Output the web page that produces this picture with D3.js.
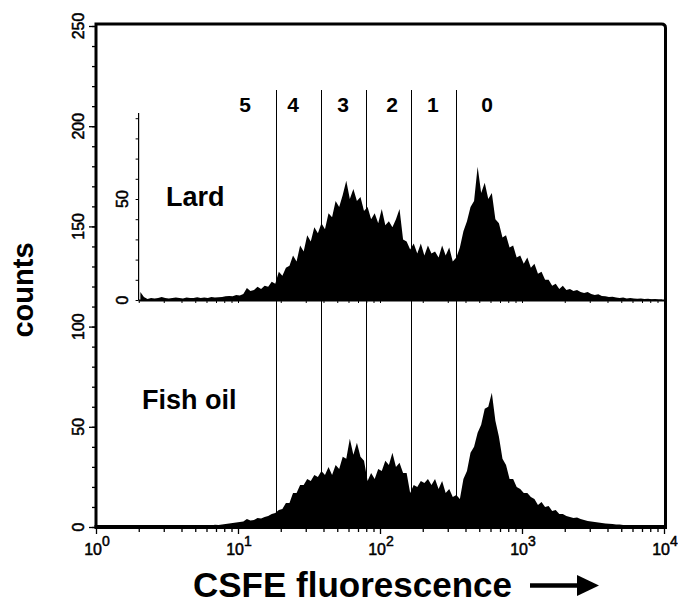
<!DOCTYPE html>
<html><head><meta charset="utf-8">
<script src="https://cdn.jsdelivr.net/npm/d3@7"></script>
<style>body{margin:0;background:#fff} svg{display:block}</style>
</head><body><svg id="c" width="678" height="603"></svg>
<script>
// Histogram channels: log10 of fluorescence, first channel and width
const binLogStart = 0.3, binLogStep = 0.025;
const lardCounts = [
 4,1.5,0.5,1,0.8,1,1.5,1,0.8,1,
 1.2,1,0.8,1.2,1,1,1.3,1,1.2,1,
 1.5,1.2,1.3,1.5,1.8,2,1.8,2.5,2.2,3,
 6,4.5,5,6.5,5.5,7,6.5,9,8,14,
 12,16,17,22,19,27,24,32,29,36,
 33,38,35,43,41,49,46,52,59,50,
 55,49,51,44,46,40,43,38,45,37,
 39,36,40,45,30,29,25,28,23,28,
 22,27,23,24,21,27,22,26,19,21,
 26,34,39,46,49,66,53,58,50,53,
 40,38,31,32,26,27,21,22,18,21,
 16,18,13,14,10,10,7,8,5.5,7,
 5,5.5,4.5,5,4,3.5,4,3,2.5,2.8,
 2,1.8,1.5,1.6,1.2,1,1.2,0.8,1,0.8,
 0.6,0.8,0.5,0.6,0.4,0.5,0.3,0.2];
const fishOilCounts = [
 0.5,0.3,0.2,0.2,0.2,0.2,0.3,0.2,0.3,0.3,
 0.4,0.5,0.4,0.6,0.5,0.7,0.6,0.8,0.7,1,
 0.8,1.1,1,1.3,1.5,1.8,2,2.2,2.5,2.8,
 4,3.2,3.5,4.5,4.2,5,5.5,6.5,7,8.5,
 9,12,12,17,17,21,21,24,23,26,
 25,28,26,30,26,31,29,35,34,44,
 36,42,35,33,23,27,24,29,28,33,
 31,37,30,32,27,27,17,21,20,23,
 22,24,21,24,19,23,17,19,15,16,
 14,24,28,37,40,47,51,59,60,67,
 53,45,34,31,24,24,20,19,17,17,
 15,14,11,12.5,10,10.5,8,8.5,6.5,6.5,
 5.5,5,4.5,4.8,4,3.5,3,2.8,2.5,2.3,
 2,1.8,1.6,1.5,1.3,1.2,1,1,0.9,1,
 0.8,0.8,0.6,0.5,0.5,0.4,0.3,0.2];
const gateBounds = [18.5, 38.4, 79.7, 165, 343];
const gateLabels = ["5","4","3","2","1","0"];
const gateLabelAt = [11.2, 24.4, 54.9, 121.5, 236, 567];
const panelLabels = ["Lard", "Fish oil"];
const yTickLabels = [0, 50, 100, 150, 200, 250];
const insetTickLabels = [0, 50];
const xDecades = [1, 10, 100, 1000, 10000];
const xDecadeExp = ["0", "1", "2", "3", "4"];
const xTitle = "CSFE fluorescence";
const yTitle = "counts";

const FONT = "'Liberation Sans', Arial, sans-serif";
const svg = d3.select("#c");
const x = d3.scaleLog().domain([1, 1e4]).range([96, 664]);
const yMain = d3.scaleLinear().domain([0, 250]).range([527, 26]);
const yInset = d3.scaleLinear().domain([0, 50]).range([300, 199]);
const binX = (d, i) => x(Math.pow(10, binLogStart + binLogStep * (i + 0.5)));

// gate lines
svg.append("g").selectAll("line").data(gateBounds).join("line")
  .attr("x1", d => Math.round(x(d)) + 0.5).attr("x2", d => Math.round(x(d)) + 0.5)
  .attr("y1", 90).attr("y2", yMain(0))
  .attr("stroke", "#000").attr("stroke-width", 1);

// histograms
svg.append("path").datum(lardCounts)
  .attr("d", d3.area().x(binX).y0(yInset(0)).y1(d => yInset(d)))
  .attr("fill", "#000");
svg.append("path").datum(fishOilCounts)
  .attr("d", d3.area().x(binX).y0(yMain(0)).y1(d => yMain(d)))
  .attr("fill", "#000");

// minor log ticks
const minorTicks = [];
xDecades.slice(0, 4).forEach(d => { for (let k = 2; k <= 9; k++) minorTicks.push(d * k); });

// bottom axis
const gx = svg.append("g").attr("transform", `translate(0,${yMain(0)})`);
gx.call(d3.axisBottom(x).tickValues(minorTicks).tickSize(5).tickFormat(""))
  .call(g => g.select(".domain").remove());
gx.append("g").call(d3.axisBottom(x).tickValues(xDecades).tickSize(7).tickFormat(""))
  .call(g => g.select(".domain").remove());
gx.selectAll("line").attr("stroke", "#000").attr("stroke-width", 1.3);
const xl = svg.append("g").selectAll("text").data(xDecades).join("text")
  .attr("x", d => x(d) + 1).attr("y", 555)
  .attr("text-anchor", "middle").attr("font-family", FONT)
  .attr("font-size", 16).attr("fill", "#000")
  .attr("stroke", "#000").attr("stroke-width", 0.5);
xl.append("tspan").text("10");
xl.append("tspan").attr("dy", -9).attr("font-size", 14).text((d, i) => xDecadeExp[i]);

// left axis
const gy = svg.append("g").attr("transform", `translate(${x.range()[0]},0)`);
gy.call(d3.axisLeft(yMain).tickValues(d3.range(0, 251, 10)).tickSize(4).tickFormat(""))
  .call(g => g.select(".domain").remove());
gy.append("g").call(d3.axisLeft(yMain).tickValues(yTickLabels).tickSize(7).tickFormat(""))
  .call(g => g.select(".domain").remove());
gy.selectAll("line").attr("stroke", "#000").attr("stroke-width", 1.3);
svg.append("g").selectAll("text").data(yTickLabels).join("text")
  .attr("transform", d => `translate(83.5,${yMain(d)}) rotate(-90)`)
  .attr("text-anchor", "middle").attr("font-family", FONT)
  .attr("font-size", 16).attr("fill", "#000")
  .attr("stroke", "#000").attr("stroke-width", 0.5).text(d => d);

// inset axes (Lard panel)
const ix0 = x(Math.pow(10, binLogStart));
const gi = svg.append("g").attr("transform", `translate(${ix0},0)`);
gi.call(d3.axisLeft(yInset).tickValues(d3.range(0, 91, 10)).tickSize(3).tickFormat(""))
  .call(g => g.select(".domain").remove());
gi.append("line").attr("x1", 0).attr("x2", 0).attr("y1", 113).attr("y2", yInset(0))
  .attr("stroke", "#000").attr("stroke-width", 1.2);
gi.selectAll("line").attr("stroke", "#000");
svg.append("g").selectAll("text").data(insetTickLabels).join("text")
  .attr("transform", d => `translate(127.5,${yInset(d)}) rotate(-90)`)
  .attr("text-anchor", "middle").attr("font-family", FONT)
  .attr("font-size", 16).attr("fill", "#000")
  .attr("stroke", "#000").attr("stroke-width", 0.5).text(d => d);
const gix = svg.append("g").attr("transform", `translate(0,${yInset(0)})`);
gix.call(d3.axisBottom(x).tickValues(minorTicks.concat(xDecades).filter(v => x(v) >= ix0)).tickSize(3).tickFormat(""))
  .call(g => g.select(".domain").remove());
gix.selectAll("line").attr("stroke", "#000");
svg.append("line").attr("x1", ix0).attr("x2", x.range()[1])
  .attr("y1", yInset(0) + 0.5).attr("y2", yInset(0) + 0.5)
  .attr("stroke", "#000").attr("stroke-width", 2);

// frame
const L = x.range()[0], R = x.range()[1] + 1.5, T = 24, B = yMain(0);
svg.append("path")
  .attr("d", `M${L},${B} V${T} H${R - 4} Q${R},${T} ${R},${T + 4} V${B}`)
  .attr("fill", "none").attr("stroke", "#000").attr("stroke-width", 3);
svg.append("line").attr("x1", L - 1.5).attr("x2", R + 1.5).attr("y1", B).attr("y2", B)
  .attr("stroke", "#000").attr("stroke-width", 4);

// gate labels
svg.append("g").selectAll("text").data(gateLabels).join("text")
  .attr("x", (d, i) => x(gateLabelAt[i])).attr("y", 112)
  .attr("text-anchor", "middle").attr("font-family", FONT)
  .attr("font-weight", "bold").attr("font-size", 21).text(d => d);

// panel labels
svg.append("text").attr("x", 166).attr("y", 206).attr("font-family", FONT)
  .attr("font-weight", "bold").attr("font-size", 27).text(panelLabels[0]);
svg.append("text").attr("x", 142).attr("y", 409).attr("font-family", FONT)
  .attr("font-weight", "bold").attr("font-size", 27).text(panelLabels[1]);

// axis titles
svg.append("text").attr("transform", "translate(33,290) rotate(-90)")
  .attr("text-anchor", "middle").attr("font-family", FONT)
  .attr("font-weight", "bold").attr("font-size", 29).text(yTitle);
svg.append("text").attr("x", 193).attr("y", 597).attr("font-family", FONT)
  .attr("font-weight", "bold").attr("font-size", 35).text(xTitle);
svg.append("line").attr("x1", 530).attr("x2", 582).attr("y1", 585.5).attr("y2", 585.5)
  .attr("stroke", "#000").attr("stroke-width", 4.5);
svg.append("path").attr("d", "M577,575 L599,585.5 L577,596 Z").attr("fill", "#000");
</script>
</body></html>
